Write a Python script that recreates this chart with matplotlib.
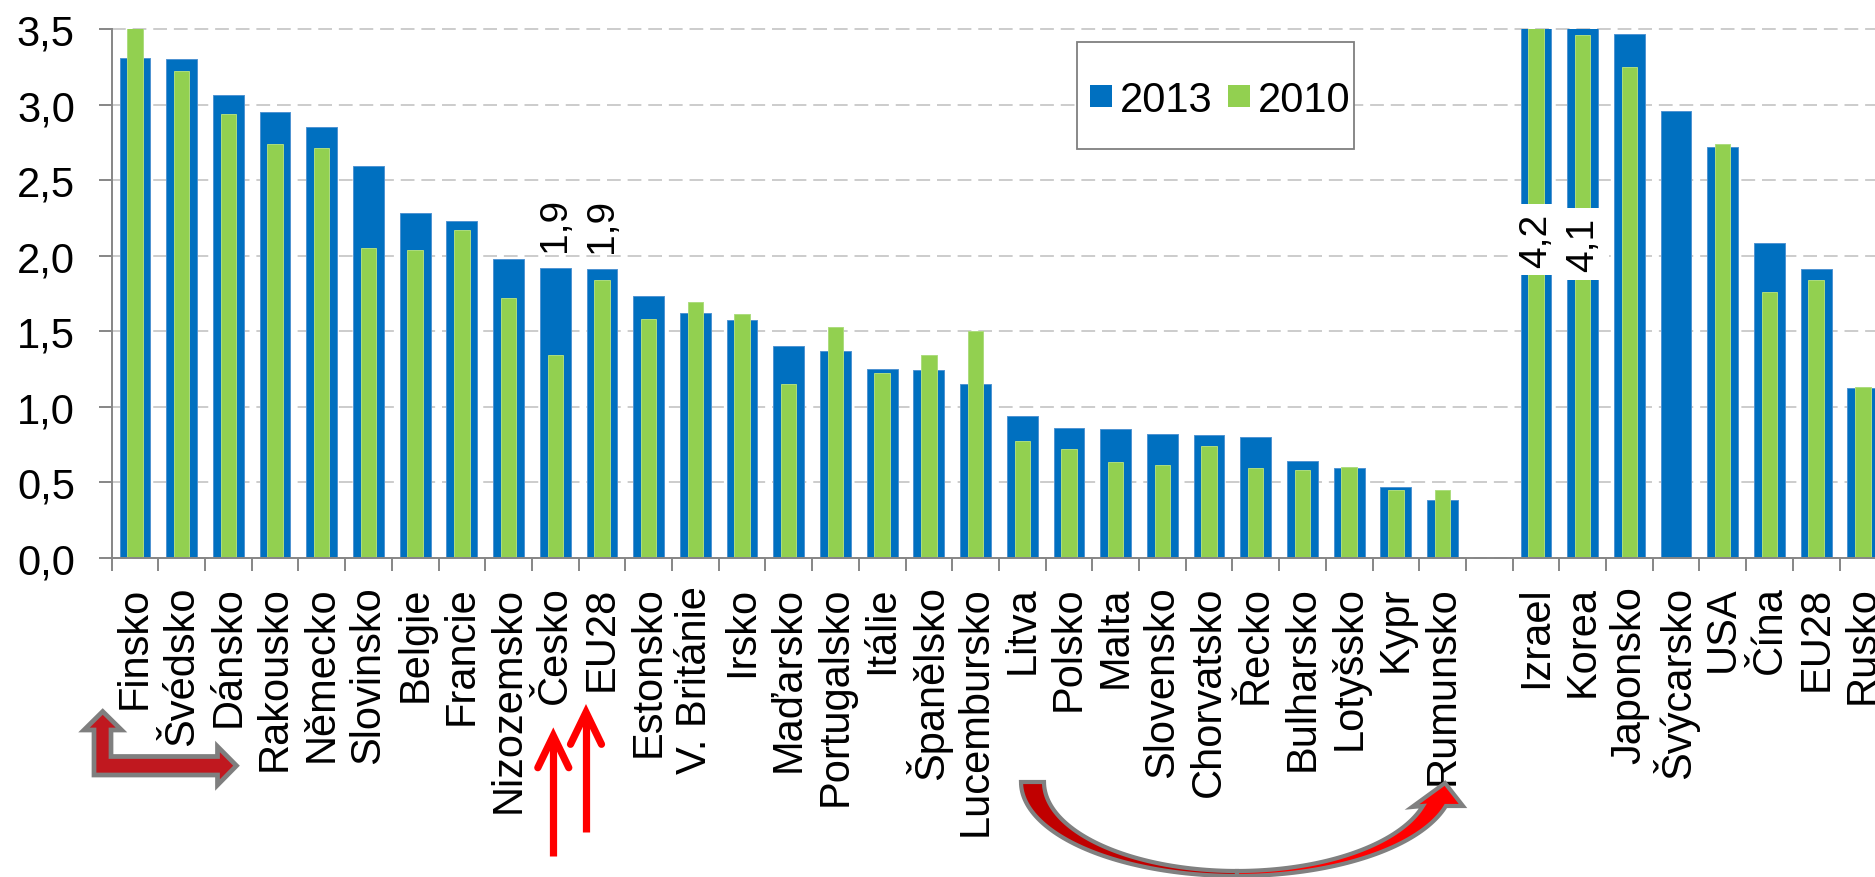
import matplotlib
matplotlib.use('Agg')
import matplotlib.pyplot as plt
import numpy as np
from matplotlib.patches import Polygon, Rectangle
from matplotlib.ticker import FuncFormatter

plt.rcParams['font.family'] = ['Liberation Sans', 'DejaVu Sans']

# ---------------- data ----------------
countries = ['Finsko', 'Švédsko', 'Dánsko', 'Rakousko', 'Německo', 'Slovinsko',
             'Belgie', 'Francie', 'Nizozemsko', 'Česko', 'EU28', 'Estonsko',
             'V. Británie', 'Irsko', 'Maďarsko', 'Portugalsko', 'Itálie',
             'Španělsko', 'Lucembursko', 'Litva', 'Polsko', 'Malta', 'Slovensko',
             'Chorvatsko', 'Řecko', 'Bulharsko', 'Lotyšsko', 'Kypr', 'Rumunsko',
             '',
             'Izrael', 'Korea', 'Japonsko', 'Švýcarsko', 'USA', 'Čína', 'EU28', 'Rusko']
nan = np.nan
v2013 = [3.31, 3.30, 3.06, 2.95, 2.85, 2.59, 2.28, 2.23, 1.98, 1.92, 1.91, 1.73,
         1.62, 1.57, 1.40, 1.37, 1.25, 1.24, 1.15, 0.94, 0.86, 0.85, 0.82, 0.81,
         0.80, 0.64, 0.59, 0.47, 0.38,
         nan,
         4.21, 4.14, 3.47, 2.96, 2.72, 2.08, 1.91, 1.12]
v2010 = [3.73, 3.22, 2.94, 2.74, 2.71, 2.05, 2.04, 2.17, 1.72, 1.34, 1.84, 1.58,
         1.69, 1.61, 1.15, 1.53, 1.22, 1.34, 1.50, 0.77, 0.72, 0.63, 0.61, 0.74,
         0.59, 0.58, 0.60, 0.45, 0.45,
         nan,
         3.96, 3.46, 3.25, nan, 2.74, 1.76, 1.84, 1.13]
series_names = ['2013', '2010']
labels_above = ['Česko', 'EU28']        # value labels above the 2013 bar
labels_break = ['Izrael', 'Korea']      # values beyond the axis, shown in a break box

BLUE = '#0070C0'
GREEN = '#92D050'
GREY = '#868686'

W, H = 1875, 878
fig = plt.figure(figsize=(W / 100, H / 100), dpi=100)

# axes geometry (pixels)
x0, y0, slot, ytop = 111.6, 558.6, 46.7, 30.0
n = len(countries)
ax = fig.add_axes([x0 / W, 1 - y0 / H, n * slot / W, (y0 - ytop) / H])

x = np.arange(n)
ax.bar(x, v2013, width=0.66, color=BLUE, edgecolor='#4F93D2', linewidth=0.7, zorder=2)
ax.bar(x, v2010, width=0.33, color=GREEN, edgecolor='#ADDC7E', linewidth=0.7, zorder=3)

ax.set_xlim(-0.5, n - 0.5)
ax.set_ylim(0, 3.5)

fmt = lambda v: f"{v:.1f}".replace('.', ',')

# grid
ax.set_axisbelow(True)
ax.set_yticks(np.arange(0, 3.51, 0.5))
ax.yaxis.grid(True, color='#BEBEBE', linestyle=(0, (9, 4.5)), linewidth=1.1)
for gl in ax.get_ygridlines():
    gl.set_clip_on(False)
ax.yaxis.set_major_formatter(FuncFormatter(lambda v, p: fmt(v)))

for s in ['top', 'right']:
    ax.spines[s].set_visible(False)
for s in ['left', 'bottom']:
    ax.spines[s].set_color(GREY)
    ax.spines[s].set_linewidth(1.4)
    ax.spines[s].set_zorder(4)

ax.tick_params(axis='y', length=9.4, width=1.4, color=GREY, pad=17, labelsize=30)
ax.set_xticks(x)
ax.set_xticklabels(countries, rotation=90, fontsize=30)
ax.tick_params(axis='x', which='major', length=0, pad=20)
ax.set_xticks(np.arange(-0.5, n, 1), minor=True)
ax.tick_params(axis='x', which='minor', length=9.4, width=1.4, color=GREY, direction='out')

# value labels
for i, c in enumerate(countries[:20]):
    if c in labels_above:
        ax.annotate(fmt(v2013[i]), (i, v2013[i]), xytext=(0, 12), textcoords='offset points',
                    rotation=90, ha='center', va='bottom', fontsize=28, zorder=6)
break_y = {'Izrael': 2.107, 'Korea': 2.077}
for i, c in enumerate(countries):
    if c in labels_break and i > 29:
        ax.text(i, break_y[c], fmt(v2013[i]), rotation=90, ha='center', va='center',
                fontsize=28, zorder=6,
                bbox=dict(boxstyle='square,pad=0.22', fc='white', ec='none'))

# ---------------- overlay (pixel coordinates) ----------------
ov = fig.add_axes([0, 0, 1, 1], zorder=10)
ov.set_xlim(0, W)
ov.set_ylim(H, 0)
ov.axis('off')
ov.patch.set_alpha(0)

# legend
ov.add_patch(Rectangle((1076.7, 43.3), 277.6, 106.7, fc='white', ec='#7F7F7F', lw=1.3))
ov.add_patch(Rectangle((1090, 86), 22.3, 21.7, fc=BLUE, ec='none'))
ov.add_patch(Rectangle((1228.3, 86), 21.7, 21.7, fc=GREEN, ec='none'))
ov.text(1119.5, 111.7, series_names[0], fontsize=30, va='baseline', ha='left')
ov.text(1258, 111.7, series_names[1], fontsize=30, va='baseline', ha='left')

# L-shaped arrow
Lpts = [(94, 776), (94, 731), (84, 731), (102.7, 712.5), (121.5, 731), (111, 731),
        (111, 757.5), (217.5, 757.5), (217.5, 747.5), (236.5, 766.7), (217.5, 786),
        (217.5, 776)]
ov.add_patch(Polygon(Lpts, closed=True, fc='#C0181F', ec='#7F7F7F', lw=3.4, joinstyle='miter'))

# two red upward arrows
for xa, yb, yt in [(553.3, 856.7, 736.7), (586.0, 833.3, 713.3)]:
    ov.plot([xa, xa], [yb, yt + 4], color='#FF0000', lw=5.2, solid_capstyle='butt')
    ov.plot([xa - 15.5, xa, xa + 15.5], [yt + 32, yt, yt + 32], color='#FF0000', lw=5.2,
            solid_capstyle='round', solid_joinstyle='miter')

# curved arrow
cx, cy = 1237.0, 783.0
ao, bo = 216.0, 94.0
ai, bi = 193.0, 89.0
rise = 24.0
te_o = np.arcsin(rise / bo)
te_i = np.arcsin(rise / bi)
def arc(a, b, t1, t2, m=60):
    t = np.linspace(t1, t2, m)
    return list(zip(cx + a * np.cos(t), cy + b * np.sin(t)))
left = arc(ao, bo, np.pi, np.pi / 2) + arc(ai, bi, np.pi / 2, np.pi)
right = (arc(ao, bo, np.pi / 2, te_o) + [(1463, 807), (1445, 784), (1412, 808)] +
         arc(ai, bi, te_i, np.pi / 2))
ov.add_patch(Polygon(left, closed=True, fc='#C00000', ec='#808080', lw=3.0, joinstyle='miter'))
ov.add_patch(Polygon(right, closed=True, fc='#FF0000', ec='#808080', lw=3.0, joinstyle='miter'))

fig.savefig('out.png', dpi=100)
